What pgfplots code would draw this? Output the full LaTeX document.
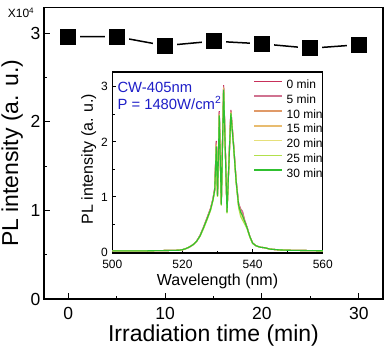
\documentclass[border=0pt]{standalone}
\usepackage{fontspec}
\setmainfont{Liberation Sans}
\usepackage{pgfplots}
\usepackage{pgfplotstable}
\pgfplotsset{compat=1.18}
\definecolor{c0}{HTML}{C8305A}
\definecolor{c5}{HTML}{D07290}
\definecolor{c10}{HTML}{E09A68}
\definecolor{c15}{HTML}{E8BC70}
\definecolor{c20}{HTML}{E6E07A}
\definecolor{c25}{HTML}{B2E04C}
\definecolor{c30}{HTML}{30C030}
\definecolor{cwblue}{HTML}{1E1EC8}
\pgfplotstableread{
t y
0  2.96
5  2.96
10 2.86
15 2.91
20 2.88
25 2.83
30 2.87
}\maindata
\pgfplotstableread{
w      a     b     c     d     e     f     g
500    0.02  0.02  0.02  0.02  0.02  0.02  0.02
505    0.02  0.02  0.02  0.02  0.02  0.02  0.02
510    0.02  0.02  0.02  0.02  0.02  0.02  0.02
515    0.025 0.025 0.025 0.025 0.025 0.025 0.025
519    0.03  0.03  0.03  0.03  0.03  0.03  0.03
520    0.04  0.04  0.04  0.04  0.04  0.04  0.04
521    0.06  0.06  0.06  0.06  0.06  0.06  0.06
522    0.09  0.09  0.09  0.09  0.09  0.09  0.09
523    0.13  0.13  0.13  0.13  0.13  0.13  0.13
524    0.19  0.19  0.19  0.19  0.19  0.19  0.19
525    0.30  0.30  0.29  0.29  0.29  0.28  0.29
526    0.45  0.45  0.44  0.44  0.43  0.42  0.44
527    0.62  0.61  0.60  0.60  0.59  0.58  0.60
528    0.79  0.79  0.78  0.77  0.76  0.75  0.77
528.7  0.97  0.96  0.95  0.95  0.94  0.93  0.95
529.2  1.16  1.15  1.14  1.13  1.12  1.11  1.13
529.65 2.02  1.99  1.96  1.94  1.92  1.90  1.92
530.0  1.06  1.05  1.04  1.03  1.02  1.00  1.02
530.5  2.56  2.54  2.51  2.50  2.48  2.46  2.48
531.07 0.90  0.89  0.88  0.87  0.86  0.84  0.86
531.73 3.03  3.01  2.99  2.97  2.95  2.93  2.95
532.7  0.75  0.74  0.73  0.73  0.72  0.70  0.72
533.8  2.58  2.57  2.55  2.54  2.52  2.50  2.52
534.6  1.94  1.93  1.92  1.91  1.90  1.88  1.90
535.3  1.30  1.30  1.29  1.28  1.27  1.25  1.28
536.0  0.88  0.88  0.86  0.85  0.83  0.80  0.85
536.6  0.77  0.78  0.73  0.71  0.68  0.64  0.72
537.1  0.73  0.74  0.68  0.66  0.61  0.58  0.66
537.7  0.58  0.58  0.56  0.55  0.53  0.51  0.56
538.4  0.45  0.45  0.44  0.44  0.43  0.42  0.44
539.2  0.28  0.28  0.28  0.28  0.27  0.27  0.28
540.0  0.16  0.16  0.16  0.16  0.16  0.15  0.16
541    0.11  0.11  0.11  0.11  0.11  0.11  0.11
542.2  0.085 0.085 0.085 0.085 0.085 0.085 0.085
543.5  0.075 0.075 0.075 0.075 0.075 0.075 0.075
545    0.05  0.05  0.05  0.05  0.05  0.05  0.05
548    0.035 0.035 0.035 0.035 0.035 0.035 0.035
550    0.03  0.03  0.03  0.03  0.03  0.03  0.03
555    0.025 0.025 0.025 0.025 0.025 0.025 0.025
560    0.02  0.02  0.02  0.02  0.02  0.02  0.02
}\spec
\begin{document}
\begin{tikzpicture}
\begin{axis}[
  name=main,
  at={(0pt,0pt)}, anchor=south west,
  scale only axis, width=339pt, height=291.5pt,
  xmin=-2.5, xmax=32.5, ymin=0, ymax=3.29,
  xtick={0,10,20,30}, minor xtick={5,15,25},
  ytick={0,1,2,3}, minor ytick={0.5,1.5,2.5},
  tick align=inside, xtick pos=bottom, ytick pos=left,
  major tick length=6pt, minor tick length=3.5pt,
  axis line style={line width=1.3pt},
  every tick/.style={black, line width=1pt},
  /pgf/number format/assume math mode=true,
  tick label style={font=\fontsize{17.5}{17.5}\selectfont},
  xticklabel style={yshift=-5pt},
  xlabel={Irradiation time (min)},
  ylabel={PL intensity (a. u.)},
  label style={font=\fontsize{23}{23}\selectfont},
  xlabel style={at={(axis description cs:0.5,-0.124)}, anchor=center},
  ylabel style={at={(axis description cs:-0.094,0.5)}, anchor=center},
  clip=false,
]
\addplot[black, line width=1.5pt, mark=square*, mark size=10pt,
  mark options={solid, fill=black, draw=white, line width=4pt}]
  table[x=t, y=y] {\maindata};
\node[font=\fontsize{12}{12}\selectfont] at ([xshift=-23pt,yshift=-5pt]rel axis cs:0,1) {X10\textsuperscript{4}};
\end{axis}
\begin{axis}[
  name=inset,
  at={(68.3pt,46pt)}, anchor=south west,
  scale only axis, width=210.5pt, height=181pt,
  xmin=500, xmax=560, ymin=-0.02, ymax=3.27,
  xtick={500,520,540,560}, minor xtick={510,530,550},
  ytick={0,1,2,3}, minor ytick={0.5,1.5,2.5},
  tick align=inside, xtick pos=bottom, ytick pos=left,
  major tick length=4pt, minor tick length=2.5pt,
  axis line style={line width=1.1pt},
  every tick/.style={black, line width=0.8pt},
  /pgf/number format/assume math mode=true,
  tick label style={font=\fontsize{12}{12}\selectfont},
  xticklabel style={yshift=-4pt},
  yticklabel style={xshift=-1pt},
  xlabel={Wavelength (nm)},
  ylabel={PL intensity (a. u.)},
  label style={font=\fontsize{16}{16}\selectfont},
  xlabel style={at={(axis description cs:0.5,-0.155)}, anchor=center},
  ylabel style={at={(axis description cs:-0.112,0.52)}, anchor=center},
  axis background/.style={fill=white},
  legend style={at={(rel axis cs:0.67,0.96)}, anchor=north west, draw=none, fill=none,
    font=\fontsize{12}{12}\selectfont, inner sep=0pt, row sep=3.8pt,
    nodes={inner sep=0pt, text height=9pt, text depth=2pt},
    /tikz/every odd column/.append style={column sep=3.5pt}},
  legend cell align=left,
  legend image code/.code={\draw[#1, line width=1.6pt] (0pt,3.5pt) -- (28pt,3.5pt);},
]
\addplot[c0, line width=1.1pt] table[x=w, y=a] {\spec};
\addlegendentry{0 min}
\addplot[c5, line width=1.1pt] table[x=w, y=b] {\spec};
\addlegendentry{5 min}
\addplot[c10, line width=1.1pt] table[x=w, y=c] {\spec};
\addlegendentry{10 min}
\addplot[c15, line width=1.1pt] table[x=w, y=d] {\spec};
\addlegendentry{15 min}
\addplot[c20, line width=1.1pt] table[x=w, y=e] {\spec};
\addlegendentry{20 min}
\addplot[c25, line width=1.1pt] table[x=w, y=f] {\spec};
\addlegendentry{25 min}
\addplot[c30, line width=1.1pt] table[x=w, y=g] {\spec};
\addlegendentry{30 min}
\node[anchor=west, text=cwblue, font=\fontsize{14.8}{14.8}\selectfont, inner sep=0pt] at (rel axis cs:0.024,0.917) {CW-405nm};
\node[anchor=west, text=cwblue, font=\fontsize{14.8}{14.8}\selectfont, inner sep=0pt] at (rel axis cs:0.024,0.829) {P = 1480W/cm\textsuperscript{2}};
\node[font=\fontsize{9}{9}\selectfont] at ([xshift=-14pt,yshift=-4pt]rel axis cs:0,1) {X10\textsuperscript{4}};
\end{axis}
\pgfresetboundingbox
\path[use as bounding box] (-44pt,-50pt) rectangle (341pt,299pt);
\end{tikzpicture}
\end{document}
